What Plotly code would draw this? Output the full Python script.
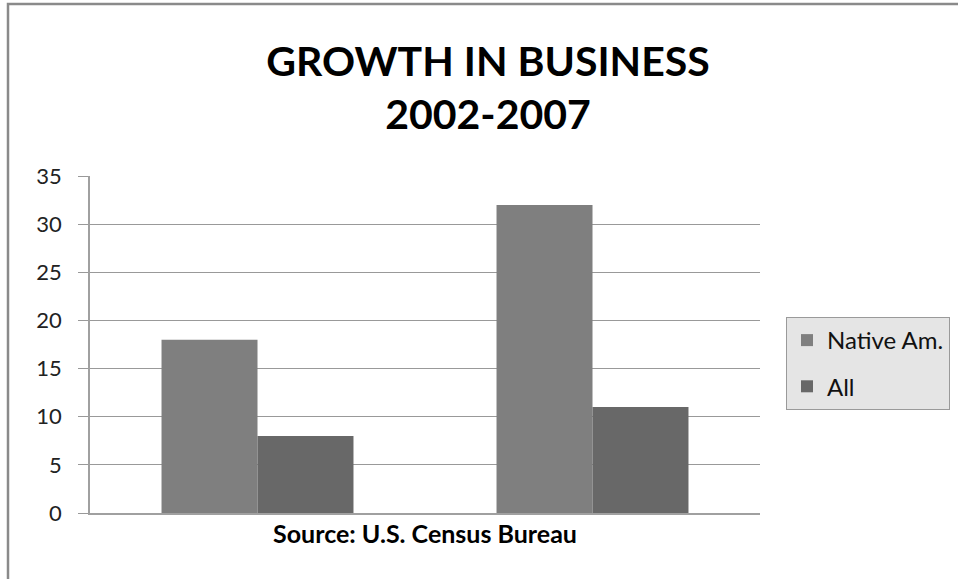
import plotly.graph_objects as go

categories = ["Group 1", "Group 2"]
native_am = [18, 32]
all_firms = [8, 11]
y_ticks = [0, 5, 10, 15, 20, 25, 30, 35]

W, H = 958, 579
L, R, T, B = 90, 760, 176, 513  # plot area pixel edges

def px_x(p):
    return (p - L) / (R - L)

def px_y(p):
    return (B - p) / (B - T)

FONT = "Lato, 'Open Sans', sans-serif"

fig = go.Figure()
fig.add_trace(go.Bar(name="Native Am.", x=categories, y=native_am,
                     marker=dict(color="#7f7f7f", line=dict(width=0)),
                     legendgroup="a"))
fig.add_trace(go.Bar(name="All", x=categories, y=all_firms,
                     marker=dict(color="#686868", line=dict(width=0)),
                     legendgroup="b"))

fig.update_layout(
    width=W, height=H,
    margin=dict(l=L, r=W - R, t=T, b=H - B, pad=0, autoexpand=False),
    paper_bgcolor="white", plot_bgcolor="white",
    barmode="group", bargap=0.427, bargroupgap=0,
    font=dict(family=FONT, size=18, color="#222"),
    title=dict(text="<b>GROWTH IN BUSINESS<br>2002-2007</b>",
               x=488 / W, xref="container", xanchor="center",
               y=1 - 76 / H, yref="container", yanchor="top",
               font=dict(family=FONT, size=41, color="black")),
    legend=dict(x=px_x(786), y=px_y(317), xanchor="left", yanchor="top",
                bgcolor="#e5e5e5", bordercolor="#9a9a9a", borderwidth=1,
                font=dict(family=FONT, size=24, color="#111"),
                traceorder="grouped", tracegroupgap=12),
    xaxis=dict(showticklabels=False, ticks="", showgrid=False,
               showline=True, linecolor="#a0a0a0", linewidth=1.5,
               title=dict(text="<b>Source: U.S. Census Bureau</b>",
                          standoff=12,
                          font=dict(family=FONT, size=25, color="black"))),
    yaxis=dict(range=[0, 35], tickvals=y_ticks, ticks="outside", ticklen=10,
               tickcolor="#999", tickwidth=1,
               showgrid=True, gridcolor="#999", gridwidth=1,
               showline=True, linecolor="#a0a0a0", linewidth=1.5,
               zeroline=False, ticklabelstandoff=12,
               tickfont=dict(family=FONT, size=22, color="#222")),
    shapes=[dict(type="rect", xref="paper", yref="paper",
                 x0=px_x(8), x1=px_x(975), y0=px_y(600), y1=px_y(4),
                 line=dict(color="#8a8a8a", width=2.5), fillcolor="rgba(0,0,0,0)",
                 layer="below")],
)

fig.write_html("out.html")
